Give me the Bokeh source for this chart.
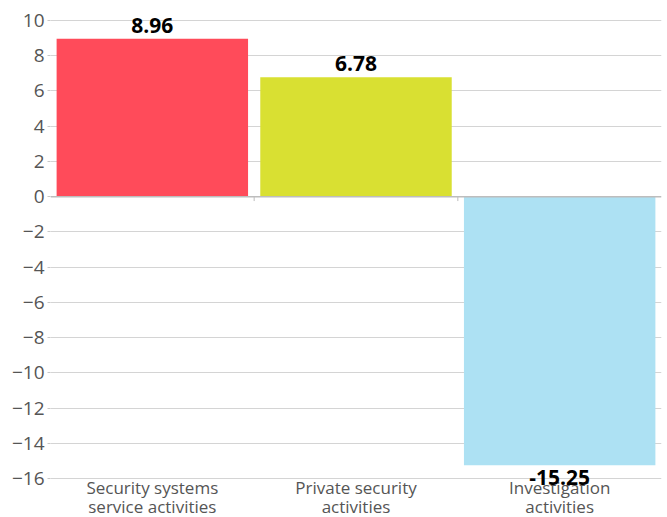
from bokeh.plotting import figure
from bokeh.models import Range1d, FixedTicker, Span, ColumnDataSource
from bokeh.core.properties import value
from bokeh.embed import file_html
from bokeh.resources import INLINE

categories = ["Security systems service activities", "Private security activities", "Investigation activities"]
tick_labels = ["Security systems\nservice activities", "Private security\nactivities", "Investigation\nactivities"]
values = [8.96, 6.78, -15.25]
colors = ["#FF4B5A", "#D9E032", "#ADE1F3"]
y_ticks = [10, 8, 6, 4, 2, 0, -2, -4, -6, -8, -10, -12, -14, -16]

FONT = "Open Sans"
idx = list(range(len(categories)))

# scale: value 10 at y=20, -16 at y=478; the frame spans the full canvas height
y_top_tick, y_min_tick = 10, -16
px_per_unit = (478 - 20) / (y_top_tick - y_min_tick)
y_end = y_top_tick + 20 / px_per_unit
y_start = y_top_tick - (517 - 20) / px_per_unit

p = figure(width=667, height=517, output_backend="svg", toolbar_location=None,
           x_range=Range1d(-0.5, len(categories) - 0.5), y_range=Range1d(y_start, y_end),
           min_border_left=50, min_border_top=0, min_border_bottom=0, min_border_right=6)
p.outline_line_color = None
p.background_fill_color = "white"
p.border_fill_color = "white"

src = ColumnDataSource(dict(x=idx, top=values, color=colors))
p.vbar(x="x", top="top", bottom=0, width=0.94, fill_color="color", line_color=None, source=src)

# zero line with small boundary ticks
p.add_layout(Span(location=0, dimension="width", line_color="#bdbdbd", line_width=1.5))
p.segment(x0=[i + 0.5 for i in idx[:-1]], x1=[i + 0.5 for i in idx[:-1]],
          y0=[0] * (len(idx) - 1), y1=[-0.25] * (len(idx) - 1), line_color="#bdbdbd", line_width=1)

# category labels under the -16 line
cat_src = ColumnDataSource(dict(x=idx, y=[y_min_tick] * len(idx), label=tick_labels))
p.text(x="x", y="y", text="label", source=cat_src, text_align="center", text_baseline="top",
       y_offset=-3, text_font=value(FONT), text_font_size="17px", text_color="#555555",
       text_line_height=0.86)

# value labels
pos = ColumnDataSource(dict(x=[i for i, v in zip(idx, values) if v >= 0],
                            y=[v for v in values if v >= 0],
                            label=["%.2f" % v for v in values if v >= 0]))
neg = ColumnDataSource(dict(x=[i for i, v in zip(idx, values) if v < 0],
                            y=[v for v in values if v < 0],
                            label=["%.2f" % v for v in values if v < 0]))
p.text(x="x", y="y", text="label", source=pos, text_align="center", text_baseline="bottom",
       y_offset=-6, text_font=value(FONT), text_font_style="bold", text_font_size="21px",
       text_color="black")
p.text(x="x", y="y", text="label", source=neg, text_align="center", text_baseline="top",
       y_offset=5, text_font=value(FONT), text_font_style="bold", text_font_size="21px",
       text_color="black")

# y axis
p.yaxis.ticker = FixedTicker(ticks=y_ticks)
p.yaxis.axis_line_color = None
p.yaxis.major_tick_in = 0
p.yaxis.major_tick_out = 3
p.yaxis.major_tick_line_color = "#c8c8c8"
p.yaxis.minor_tick_line_color = None
p.yaxis.major_label_standoff = 3
p.yaxis.major_label_text_font = FONT
p.yaxis.major_label_text_font_size = "19px"
p.yaxis.major_label_text_color = "#555555"
p.ygrid.grid_line_color = "#d4d4d4"
p.ygrid.ticker = FixedTicker(ticks=[t for t in y_ticks if t != 0])

# x axis (category labels drawn as text above)
p.xaxis.visible = False
p.xgrid.grid_line_color = None

open("out.html", "w").write(file_html(p, INLINE))
